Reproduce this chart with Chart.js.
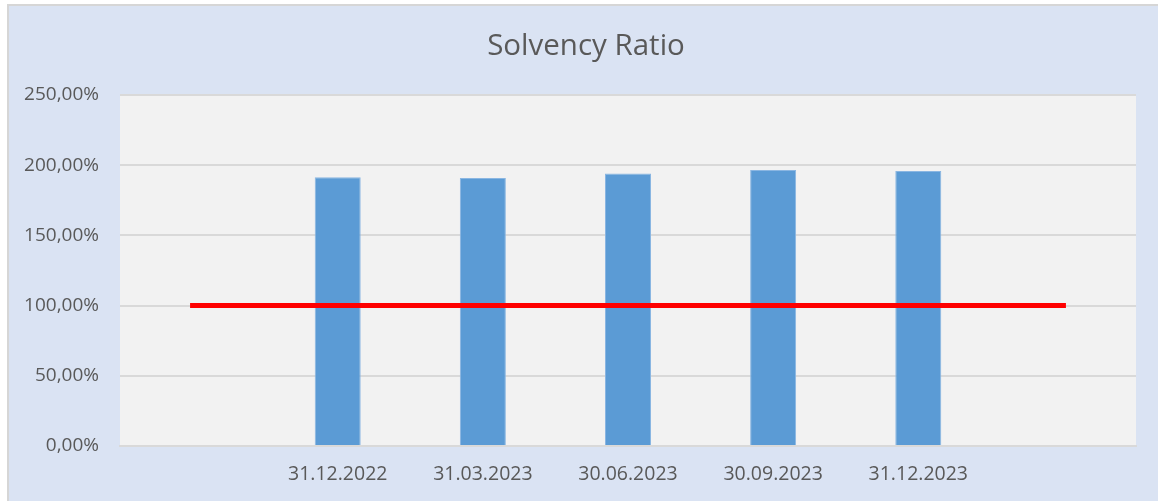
<!DOCTYPE html>
<html>
<head>
<meta charset="utf-8">
<script src="https://cdn.jsdelivr.net/npm/chart.js@4/dist/chart.umd.min.js"></script>
<style>
  html, body { margin: 0; padding: 0; background: #ffffff; width: 1158px; height: 501px; overflow: hidden; }
  #wrap { position: absolute; left: 7px; top: 4px; width: 1149px; height: 495px;
          border-left: 2px solid #d6d6d6; border-top: 2px solid #d6d6d6; background: #dae3f3; }
  canvas { display: block; }
</style>
</head>
<body>
<div id="wrap"><canvas id="c" width="1149" height="495"></canvas></div>
<script>
const title = 'Solvency Ratio';
const categories = ['', '31.12.2022', '31.03.2023', '30.06.2023', '30.09.2023', '31.12.2023', ''];
const solvencyRatio = [null, 191.5, 190.8, 194.1, 196.5, 195.8, null];
const minimumRequirement = [100, 100, 100, 100, 100, 100, 100];
const yTicks = [0, 50, 100, 150, 200, 250];

const plotBg = {
  id: 'plotBg',
  beforeDraw(chart) {
    const { ctx, chartArea: a } = chart;
    ctx.save();
    ctx.fillStyle = '#f2f2f2';
    ctx.fillRect(a.left, a.top, a.right - a.left, a.bottom - a.top);
    ctx.restore();
  }
};

const FONT = "'Open Sans', 'Liberation Sans', sans-serif";

new Chart(document.getElementById('c'), {
  data: {
    labels: categories,
    datasets: [
      {
        type: 'line',
        label: 'Minimum',
        data: minimumRequirement,
        borderColor: '#ff0000',
        borderWidth: 5,
        pointRadius: 0,
        borderCapStyle: 'square',
        fill: false,
        order: 0
      },
      {
        type: 'bar',
        label: 'Solvency Ratio',
        data: solvencyRatio,
        backgroundColor: '#5b9bd5',
        borderColor: '#8ab6e2',
        borderWidth: 1,
        barPercentage: 0.317,
        categoryPercentage: 1,
        order: 1
      }
    ]
  },
  options: {
    responsive: false,
    animation: false,
    layout: { padding: { left: 5, right: 0, top: 0, bottom: 0 } },
    plugins: {
      legend: { display: false },
      tooltip: { enabled: false },
      title: {
        display: true,
        text: title,
        color: '#595959',
        font: { family: FONT, size: 29.5, weight: 'normal' },
        padding: { top: 23, bottom: 30.6 }
      }
    },
    scales: {
      x: {
        grid: { display: false, drawTicks: false },
        border: { display: true, color: '#d9d9d9', width: 2 },
        ticks: { color: '#595959', font: { family: FONT, size: 19.5 }, padding: 17, autoSkip: false, maxRotation: 0 },
        afterFit(s) { s.height = 55; }
      },
      y: {
        min: 0,
        max: 250,
        afterBuildTicks(s) { s.ticks = yTicks.map(v => ({ value: v })); },
        grid: { color: '#d9d9d9', lineWidth: 2, drawTicks: false },
        border: { display: false },
        ticks: {
          color: '#595959',
          font: { family: FONT, size: 19 },
          padding: 21,
          callback: v => v.toFixed(2).replace('.', ',') + '%'
        },
        afterFit(s) { s.width = 106; }
      },
      yRight: {
        position: 'right',
        display: true,
        min: 0,
        max: 250,
        grid: { display: false, drawTicks: false },
        border: { display: false },
        ticks: { display: false },
        afterFit(s) { s.width = 22; }
      }
    }
  },
  plugins: [plotBg]
});
</script>
</body>
</html>
